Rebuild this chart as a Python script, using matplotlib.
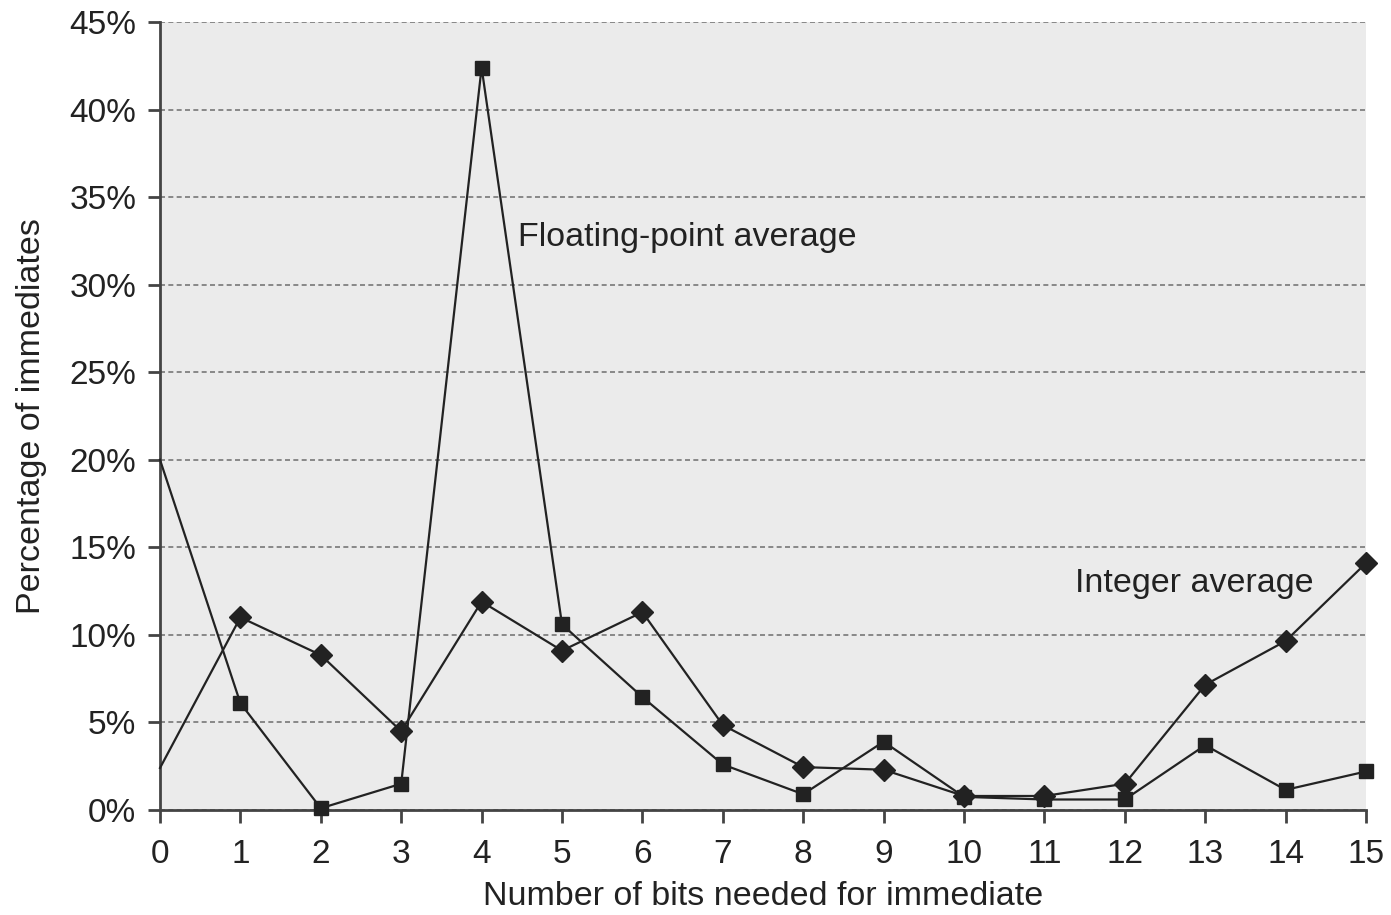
import numpy as np
import matplotlib
matplotlib.use("Agg")
from matplotlib import pyplot as plt
from matplotlib.ticker import FuncFormatter

bits = list(range(16))
# percentage of immediates
float_avg = [20.0, 6.1, 0.1, 1.5, 42.4, 10.6, 6.45, 2.6, 0.9, 3.9, 0.75, 0.6, 0.6, 3.7, 1.15, 2.2]
int_avg = [2.4, 11.0, 8.85, 4.5, 11.9, 9.1, 11.3, 4.85, 2.45, 2.3, 0.8, 0.8, 1.5, 7.15, 9.65, 14.1]
yticks = list(range(0, 50, 5))

plt.rcParams['font.family'] = ['Liberation Sans', 'DejaVu Sans']

fig = plt.figure(figsize=(13.91, 9.15), dpi=100)
ax = fig.add_axes([160 / 1391, 1 - 810 / 915, (1366 - 160) / 1391, (810 - 22) / 915])
ax.set_facecolor("#ebebeb")

line_col = "#222222"
marks = list(range(1, 16))  # no marker drawn at 0 bits
ax.plot(bits, float_avg, color=line_col, lw=1.6, marker="s", ms=10.5, markevery=marks,
        clip_on=False, zorder=3)
ax.plot(bits, int_avg, color=line_col, lw=1.6, marker="D", ms=11, markevery=marks,
        clip_on=False, zorder=3)

ax.set_xlim(0, 15)
ax.set_ylim(0, 45)
ax.set_xticks(bits)
ax.set_yticks(yticks)
ax.yaxis.set_major_formatter(FuncFormatter(lambda v, p: f"{int(v)}%"))
ax.grid(axis="y", color="#777777", ls=(0, (3, 2)), lw=1.2)
ax.set_axisbelow(True)

for s in ["top", "right"]:
    ax.spines[s].set_visible(False)
for s in ["left", "bottom"]:
    ax.spines[s].set_color("#444444")
    ax.spines[s].set_linewidth(2)

ax.tick_params(axis="both", labelsize=24, colors="#444444", length=9, width=2, direction="out")
ax.tick_params(axis="both", labelcolor="#222222")
ax.tick_params(axis="x", pad=12)
ax.tick_params(axis="y", pad=8)

ax.set_xlabel("Number of bits needed for immediate", fontsize=24.5, color="#222222", labelpad=8)
ax.set_ylabel("Percentage of immediates", fontsize=24.5, color="#222222", labelpad=16)

ax.text(4.45, 32.7, "Floating-point average", fontsize=24.5, color="#222222", va="center")
ax.text(11.38, 12.96, "Integer average", fontsize=24.5, color="#222222", va="center")

fig.savefig("out.png", dpi=100)
